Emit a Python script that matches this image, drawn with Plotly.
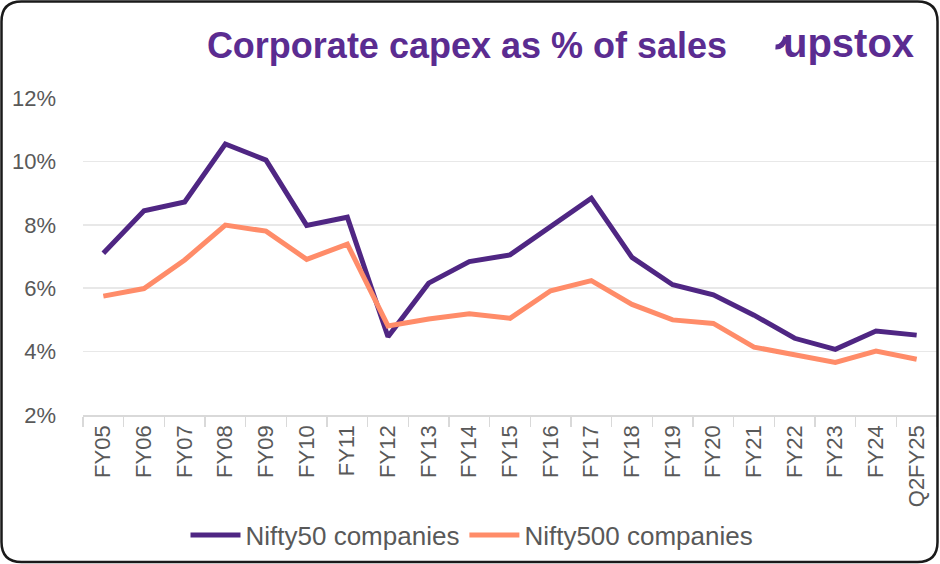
import plotly.graph_objects as go

categories = ["FY05", "FY06", "FY07", "FY08", "FY09", "FY10", "FY11", "FY12", "FY13", "FY14",
              "FY15", "FY16", "FY17", "FY18", "FY19", "FY20", "FY21", "FY22", "FY23", "FY24", "Q2FY25"]
nifty50 = [7.1, 8.44, 8.72, 10.55, 10.04, 7.98, 8.24, 4.47, 6.16, 6.84,
           7.05, 7.94, 8.84, 6.97, 6.11, 5.79, 5.15, 4.42, 4.07, 4.65, 4.52]
nifty500 = [5.75, 5.99, 6.89, 7.99, 7.8, 6.91, 7.39, 4.81, 5.03, 5.19,
            5.05, 5.92, 6.24, 5.49, 5.0, 4.89, 4.14, 3.89, 3.66, 4.02, 3.76]
y_ticks = [2, 4, 6, 8, 10, 12]
y_tick_labels = ["2%", "4%", "6%", "8%", "10%", "12%"]

W, H = 940, 564
ML, MR, MT, MB = 83, 3, 98, 149
PW, PH = W - ML - MR, H - MT - MB

PURPLE = "#4F2683"
TITLE_PURPLE = "#5B2C91"
ORANGE = "#FF8C69"
GRAY = "#595959"


def px_x(px):
    return (px - ML) / PW


def px_y(py):
    return (H - MB - py) / PH


def px_path(parts):
    return " ".join(cmd + " " + " ".join(f"{px_x(a):.5f},{px_y(b):.5f}" for a, b in p) for cmd, p in parts)


fig = go.Figure()
fig.add_trace(go.Scatter(x=categories, y=nifty50, mode="lines", name="Nifty50 companies",
                         line=dict(color=PURPLE, width=5)))
fig.add_trace(go.Scatter(x=categories, y=nifty500, mode="lines", name="Nifty500 companies",
                         line=dict(color=ORANGE, width=5)))

# rounded outer border
x0, y0, x1, y1, r = 1.5, 1.5, 937.5, 562, 20
border = px_path([
    ("M", [(x0 + r, y0)]),
    ("L", [(x1 - r, y0)]),
    ("Q", [(x1, y0), (x1, y0 + r)]),
    ("L", [(x1, y1 - r)]),
    ("Q", [(x1, y1), (x1 - r, y1)]),
    ("L", [(x0 + r, y1)]),
    ("Q", [(x0, y1), (x0, y1 - r)]),
    ("L", [(x0, y0 + r)]),
    ("Q", [(x0, y0), (x0 + r, y0)]),
]) + " Z"
fig.add_shape(type="path", path=border, xref="paper", yref="paper",
              line=dict(color="#1a1a1a", width=2.5), fillcolor="rgba(0,0,0,0)", layer="above")

# logo: small hook before the "u"
hook = px_path([("M", [(775.5, 47)]), ("Q", [(783, 47.5), (786, 37)])])
fig.add_shape(type="path", path=hook, xref="paper", yref="paper",
              line=dict(color=TITLE_PURPLE, width=5), layer="above")
fig.add_annotation(text="<b>upstox</b>", x=px_x(781), y=px_y(43), xref="paper", yref="paper",
                   showarrow=False, xanchor="left", yanchor="middle",
                   font=dict(family="Arial, Liberation Sans", size=40, color=TITLE_PURPLE))

fig.update_layout(
    width=W, height=H,
    margin=dict(l=ML, r=MR, t=MT, b=MB, autoexpand=False),
    paper_bgcolor="white", plot_bgcolor="white",
    title=dict(text="Corporate capex as % of sales", x=467 / W, xref="container", xanchor="center",
               y=1 - 45 / H, yref="container", yanchor="middle",
               font=dict(family="Arial, Liberation Sans", size=36, color=TITLE_PURPLE, weight="bold")),
    showlegend=True,
    legend=dict(orientation="h", xref="container", yref="container", x=472 / W, xanchor="center",
                y=1 - 535 / H, yanchor="middle",
                font=dict(family="Arial, Liberation Sans", size=26, color=GRAY),
                itemwidth=50, tracegroupgap=0),
    hovermode=False,
)

fig.update_xaxes(type="category", range=[-0.5, len(categories) - 0.5], automargin=False,
                 tickangle=-90, tickson="boundaries", ticks="outside", ticklen=10,
                 tickcolor="#D9D9D9", tickwidth=1.5, showline=True, linecolor="#D9D9D9", linewidth=1.5,
                 showgrid=False, tickfont=dict(family="Arial, Liberation Sans", size=22, color=GRAY))
fig.update_yaxes(range=[2, 12], tickvals=y_ticks, ticktext=y_tick_labels, showline=False, zeroline=False,
                 automargin=False, gridcolor="#E8E8E8", gridwidth=1.5, ticks="", ticklabelstandoff=26,
                 tickfont=dict(family="Arial, Liberation Sans", size=22, color=GRAY))

fig.write_html("out.html", config={"displayModeBar": False, "staticPlot": True},
               post_script="document.body.style.margin='0px';document.body.style.overflow='hidden';")
